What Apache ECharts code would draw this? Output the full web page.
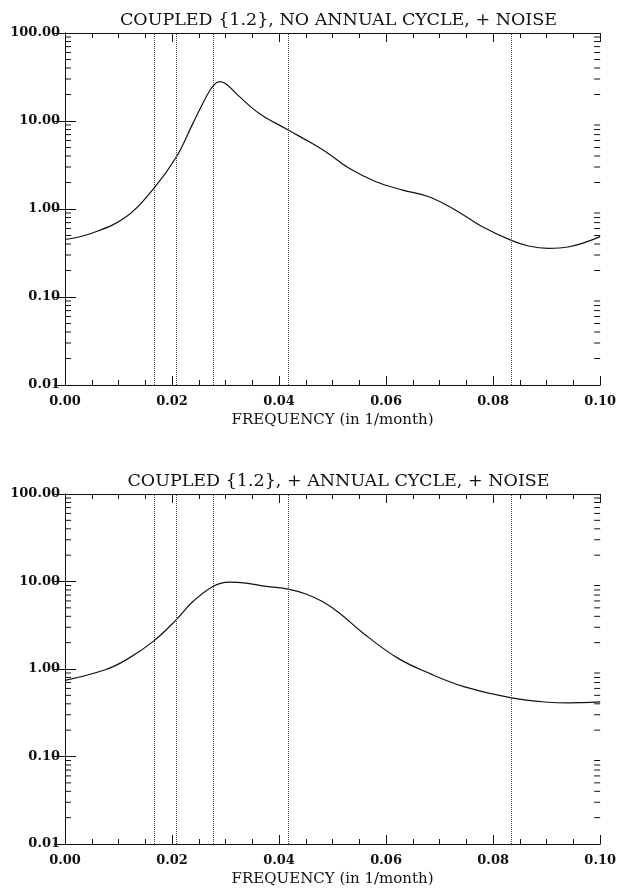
<!DOCTYPE html>
<html>
<head>
<meta charset="utf-8">
<script src="https://cdn.jsdelivr.net/npm/echarts@6/dist/echarts.min.js"></script>
<style>
  html, body { margin: 0; padding: 0; background: #fff; }
  #chart { width: 619px; height: 888px; }
</style>
</head>
<body>
<div id="chart"></div>
<script>
// spectrum without annual cycle
const freqA = [0, 0.005, 0.0115, 0.0166, 0.0208, 0.0239, 0.0264, 0.0278, 0.0289, 0.0301, 0.0326, 0.0363, 0.0417, 0.0463, 0.0494, 0.0531, 0.0581, 0.0631, 0.068, 0.073, 0.078, 0.0834, 0.0866, 0.0903, 0.094, 0.1];
const powA = [0.45, 0.53, 0.82, 1.72, 3.9, 9.4, 18.9, 25.6, 28, 26.3, 18.9, 12.2, 7.9, 5.5, 4.2, 2.9, 2.04, 1.64, 1.38, 0.97, 0.63, 0.44, 0.38, 0.357, 0.37, 0.485];
// spectrum with annual cycle
const freqB = [0, 0.0075, 0.0115, 0.0165, 0.0208, 0.0239, 0.0278, 0.0307, 0.0338, 0.0376, 0.0417, 0.045, 0.0481, 0.0512, 0.0556, 0.0621, 0.0683, 0.0745, 0.0832, 0.0903, 0.094, 0.1];
const powB = [0.74, 0.98, 1.28, 2.07, 3.66, 5.9, 8.9, 9.85, 9.6, 8.8, 8.2, 7.2, 5.9, 4.4, 2.6, 1.34, 0.88, 0.63, 0.47, 0.417, 0.41, 0.42];
// periods 5, 4, 3, 2, 1 years
const markFreqs = [1 / 60, 1 / 48, 1 / 36, 1 / 24, 1 / 12];
const titles = ['COUPLED {1.2}, NO ANNUAL CYCLE, + NOISE', 'COUPLED {1.2}, + ANNUAL CYCLE, + NOISE'];
const xTitle = 'FREQUENCY (in 1/month)';
const decades = [0.01, 0.1, 1, 10];

const font = 'DejaVu Serif';
const ink = '#111';

let minorVals = [];
decades.forEach(d => {
  for (let k = 2; k <= 9; k++) minorVals.push(d * k);
});

const grids = [
  {left: 65, top: 33, width: 537, height: 352},
  {left: 65, top: 494, width: 537, height: 351}
];

let xAxes = [], yAxes = [], series = [], titleList = [];

grids.forEach((g, i) => {
  titleList.push({
    text: titles[i],
    left: g.left + g.width / 2,
    top: g.top - 27,
    textAlign: 'center',
    textStyle: {fontFamily: font, fontSize: 17.5, fontWeight: 'normal', color: ink}
  });
  const xBase = {
    type: 'value', gridIndex: i, min: 0, max: 0.1, interval: 0.02,
    splitLine: {show: false},
    axisLine: {lineStyle: {color: ink, width: 1}},
    axisTick: {inside: true, length: 9, lineStyle: {color: ink}},
    minorTick: {show: true, splitNumber: 4, length: 5, lineStyle: {color: ink}}
  };
  xAxes.push(Object.assign({}, xBase, {
    position: 'bottom',
    name: xTitle, nameLocation: 'middle', nameGap: 28,
    nameTextStyle: {fontFamily: font, fontSize: 15, color: ink},
    axisLabel: {fontFamily: font, fontSize: 13, fontWeight: 'bold', color: ink, margin: 10, formatter: v => v.toFixed(2)}
  }));
  xAxes.push(Object.assign({}, xBase, {position: 'top', axisLabel: {show: false}}));
  const yBase = {
    type: 'log', logBase: 10, gridIndex: i, min: 0.01, max: 100,
    splitLine: {show: false},
    axisLine: {lineStyle: {color: ink, width: 1}},
    axisTick: {inside: true, length: 11, lineStyle: {color: ink}},
    minorTick: {show: false}
  };
  yAxes.push(Object.assign({}, yBase, {
    position: 'left',
    axisLabel: {fontFamily: font, fontSize: 13, fontWeight: 'bold', color: ink, margin: 5, formatter: v => v.toFixed(2)}
  }));
  yAxes.push(Object.assign({}, yBase, {position: 'right', axisLabel: {show: false}}));

  // log minor ticks on both sides
  series.push({
    type: 'custom', xAxisIndex: i * 2, yAxisIndex: i * 2, silent: true, clip: false,
    data: minorVals.map(v => [0, v]),
    encode: {x: 0, y: 1},
    renderItem: (params, api) => {
      const v = api.value(1);
      const l = api.coord([0, v]);
      const r = api.coord([0.1, v]);
      const st = {stroke: ink, lineWidth: 1};
      return {
        type: 'group',
        children: [
          {type: 'line', shape: {x1: l[0], y1: l[1], x2: l[0] + 6, y2: l[1]}, style: st},
          {type: 'line', shape: {x1: r[0] - 6, y1: r[1], x2: r[0], y2: r[1]}, style: st}
        ]
      };
    }
  });
});

const fs = [freqA, freqB], ps = [powA, powB];
[0, 1].forEach(i => {
  series.push({
    type: 'line', xAxisIndex: i * 2, yAxisIndex: i * 2,
    smooth: 0.4, symbol: 'none',
    lineStyle: {color: ink, width: 1.2},
    data: fs[i].map((f, k) => [f, ps[i][k]]),
    markLine: {
      silent: true, symbol: 'none', label: {show: false}, precision: 6,
      lineStyle: {color: '#444', type: 'dotted', width: 1},
      data: markFreqs.map(f => ({xAxis: f}))
    },
    z: 3
  });
});

const chart = echarts.init(document.getElementById('chart'));
chart.setOption({
  backgroundColor: '#fff',
  animation: false,
  title: titleList,
  grid: grids,
  xAxis: xAxes,
  yAxis: yAxes,
  series: series
});
</script>
</body>
</html>
